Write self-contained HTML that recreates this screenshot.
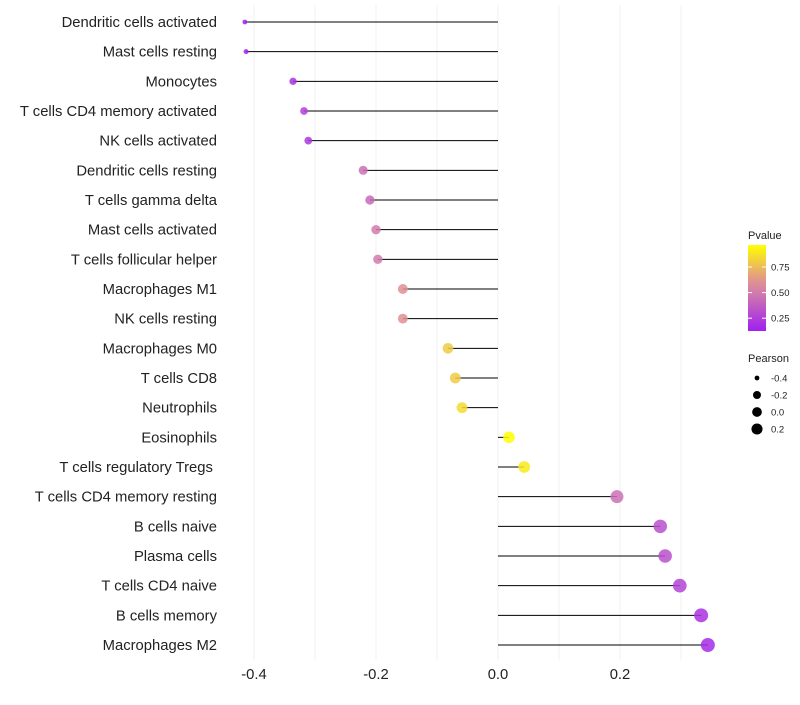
<!DOCTYPE html>
<html><head><meta charset="utf-8"><style>
body{margin:0;background:#fff;font-family:"Liberation Sans",sans-serif}
</style></head><body>
<svg id="c" width="800" height="700" xmlns="http://www.w3.org/2000/svg" font-family="Liberation Sans, sans-serif"></svg>
<script>
const categories=["Dendritic cells activated","Mast cells resting","Monocytes","T cells CD4 memory activated","NK cells activated","Dendritic cells resting","T cells gamma delta","Mast cells activated","T cells follicular helper","Macrophages M1","NK cells resting","Macrophages M0","T cells CD8","Neutrophils","Eosinophils","T cells regulatory  Tregs\u00a0","T cells CD4 memory resting","B cells naive","Plasma cells","T cells CD4 naive","B cells memory","Macrophages M2"];
const pearson=[-0.415,-0.413,-0.336,-0.318,-0.311,-0.221,-0.21,-0.2,-0.197,-0.156,-0.156,-0.082,-0.07,-0.059,0.018,0.043,0.195,0.266,0.274,0.298,0.333,0.344];
const pvalue=[0.12,0.13,0.2,0.25,0.22,0.45,0.42,0.5,0.5,0.6,0.6,0.8,0.8,0.85,0.97,0.9,0.45,0.32,0.32,0.27,0.2,0.17];
const xTicks=[-0.4,-0.2,0.0,0.2];
const xTickLabels=["-0.4","-0.2","0.0","0.2"];
const pTicks=[0.25,0.5,0.75];
const pTickLabels=["0.25","0.50","0.75"];
const sizeVals=[-0.4,-0.2,0.0,0.2];
const sizeLabels=["-0.4","-0.2","0.0","0.2"];
const svg=document.getElementById('c');const NS="http://www.w3.org/2000/svg";
function mk(t,a,p){const e=document.createElementNS(NS,t);for(const k in a)e.setAttribute(k,a[k]);(p||svg).appendChild(e);return e;}
const x=v=>498+v*610;
const y=i=>22+i*(623/21);
const r=v=>2+5*Math.sqrt(Math.max(0,(v+0.42)/0.76));
const pMin=0.125,pMax=0.965;
const stops=[[0,[160,32,240]],[0.45,[210,125,170]],[0.6,[225,150,140]],[1,[255,255,0]]];
function col(p){const t=Math.max(0,Math.min(1,(p-pMin)/(pMax-pMin)));for(let k=1;k<stops.length;k++){if(t<=stops[k][0]){const [t0,a]=stops[k-1],[t1,b]=stops[k];const u=(t-t0)/(t1-t0);return `rgb(${a.map((c,i)=>Math.round(c+(b[i]-c)*u)).join(',')})`;}}return 'rgb(255,255,0)';}
for(let v=-0.4;v<=0.31;v+=0.1){const g=mk('line',{x1:x(v),x2:x(v),y1:5,y2:660,stroke:'#f2f2f2','stroke-width':1});}
xTicks.forEach((v,i)=>{const t=mk('text',{x:x(v),y:679,'font-size':14.8,'text-anchor':'middle',fill:'#222'});t.textContent=xTickLabels[i];});
categories.forEach((c,i)=>{
const l=mk('text',{x:217,y:y(i)+5,'font-size':14.8,'text-anchor':'end',fill:'#222'});l.textContent=c;
const s=mk('line',{x1:x(0),x2:x(pearson[i]),y1:y(i),y2:y(i),stroke:'#000','stroke-width':1});
const d=mk('circle',{cx:x(pearson[i]),cy:y(i),r:r(pearson[i]),fill:col(pvalue[i]),'fill-opacity':0.85});
});
const defs=mk('defs',{});const lg=mk('linearGradient',{id:'g',x1:0,y1:1,x2:0,y2:0},defs);
stops.forEach(s=>mk('stop',{offset:s[0],'stop-color':`rgb(${s[1].join(',')})`},lg));
const lt=mk('text',{x:748,y:239,'font-size':11,fill:'#222'});lt.textContent='Pvalue';
const bar=mk('rect',{x:748,y:245,width:18,height:86,fill:'url(#g)'});
const py=p=>331-(p-pMin)/(pMax-pMin)*86;
pTicks.forEach((p,i)=>{mk('line',{x1:748,x2:752,y1:py(p),y2:py(p),stroke:'#fff'});mk('line',{x1:762,x2:766,y1:py(p),y2:py(p),stroke:'#fff'});const t=mk('text',{x:771,y:py(p)+3.5,'font-size':9.5,fill:'#222'});t.textContent=pTickLabels[i];});
const st=mk('text',{x:748,y:362,'font-size':11,fill:'#222'});st.textContent='Pearson';
sizeVals.forEach((v,i)=>{const cy=378+i*17;const c=mk('circle',{cx:757,cy:cy,r:r(v)*0.85,fill:'#000'});const t=mk('text',{x:771,y:cy+3.5,'font-size':9.5,fill:'#222'});t.textContent=sizeLabels[i];});
</script>
</body></html>
